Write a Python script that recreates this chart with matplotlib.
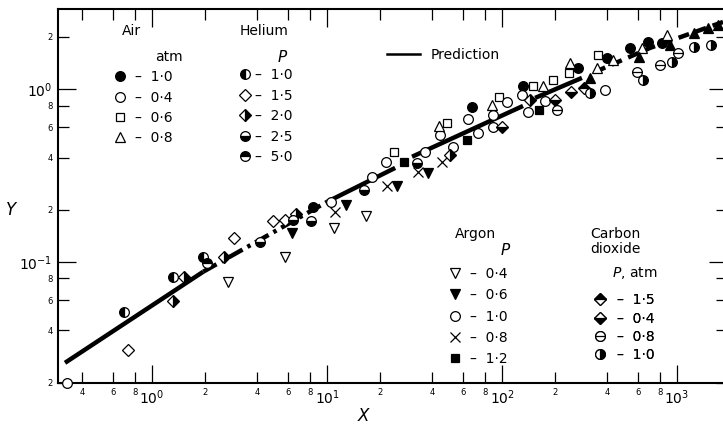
import matplotlib
matplotlib.use("Agg")
import matplotlib.pyplot as plt
from matplotlib.path import Path
from matplotlib.lines import Line2D

plt.rcParams['font.family'] = ['DejaVu Sans']
plt.rcParams['lines.scale_dashes'] = False

# ---------------- data ----------------
air_10_x = [8.3, 67, 132, 272, 398, 538, 682, 820]
air_10_y = [0.208, 0.787, 1.04, 1.32, 1.51, 1.73, 1.87, 1.85]
air_04_x = [0.327, 10.5, 18.1, 21.7, 36.3, 44.2, 63.9, 88.9]
air_04_y = [0.020, 0.222, 0.31, 0.378, 0.432, 0.542, 0.671, 0.708]
air_06_x = [24.1, 48.5, 96.1, 150, 196, 242, 354]
air_06_y = [0.432, 0.636, 0.899, 1.04, 1.127, 1.237, 1.573]
air_08_x = [43.6, 87.7, 171, 245, 349, 430, 631, 877]
air_08_y = [0.611, 0.809, 1.04, 1.413, 1.322, 1.472, 1.726, 2.05]
solid_up_x = [318, 607, 912, 1250, 1503, 1712]
solid_up_y = [1.158, 1.53, 1.796, 2.11, 2.25, 2.34]

ar_04_x = [2.72, 5.75, 10.96, 16.7]
ar_04_y = [0.0766, 0.107, 0.157, 0.1845]
ar_06_x = [6.31, 12.8, 25.1, 37.8]
ar_06_y = [0.147, 0.213, 0.275, 0.327]
ar_10_x = [52.5, 72.9, 88.9, 106.9, 130, 140.8, 176, 388]
ar_10_y = [0.462, 0.557, 0.603, 0.841, 0.923, 0.736, 0.853, 0.987]
ar_08_x = [11.1, 22.0, 33.1, 45.4]
ar_08_y = [0.1945, 0.275, 0.331, 0.378]
ar_12_x = [27.5, 63.1, 162.6]
ar_12_y = [0.378, 0.507, 0.756]

he_10_x = [0.692, 1.318, 1.955]
he_10_y = [0.0514, 0.0819, 0.107]
he_15_x = [0.729, 2.94, 4.91, 5.75]
he_15_y = [0.031, 0.1377, 0.1726, 0.175]
he_20_x = [1.524, 1.318, 2.58, 6.65, 50.5, 144.5]
he_20_y = [0.0819, 0.0595, 0.107, 0.189, 0.415, 0.863]
he_25_x = [4.14, 6.4, 8.1, 16.3, 32.7]
he_25_y = [0.1305, 0.175, 0.1726, 0.261, 0.373]
he_50_x = [2.06]
he_50_y = [0.0986]

co2_15_x = [294]
co2_15_y = [1.014]
co2_04_x = [100, 201, 248]
co2_04_y = [0.603, 0.863, 0.961]
co2_08_x = [206, 591, 800, 1014]
co2_08_y = [0.756, 1.254, 1.377, 1.614]
co2_10_x = [318, 639, 936, 1250, 1563]
co2_10_y = [0.948, 1.127, 1.432, 1.75, 1.796]

pred1_x = [0.318, 1.96]
pred1_y = [0.026, 0.0875]
pred2_x = [1.96, 4.14, 10.0]
pred2_y = [0.0875, 0.134, 0.222]
pred3_x = [10.0, 24.5]
pred3_y = [0.222, 0.349]
pred4_x = [30.6, 131.8]
pred4_y = [0.405, 0.797]
pred5_x = [154.5, 286]
pred5_y = [0.887, 1.158]
pred6_x = [340, 701, 1832]
pred6_y = [1.254, 1.726, 2.44]

x_major = [1, 10, 100, 1000]
x_major_labels = [r'$10^0$', r'$10^1$', r'$10^2$', r'$10^3$']
x_minor = [0.4, 0.6, 0.8, 2, 4, 6, 8, 20, 40, 60, 80, 200, 400, 600, 800]
x_minor_labels = ['4', '6', '8', '2', '4', '6', '8', '2', '4', '6', '8', '2', '4', '6', '8']
y_major = [0.1, 1]
y_major_labels = [r'$10^{-1}$', r'$10^0$']
y_minor = [0.02, 0.04, 0.06, 0.08, 0.2, 0.4, 0.6, 0.8, 2]
y_minor_labels = ['2', '4', '6', '8', '2', '4', '6', '8', '2']

# ---------------- figure ----------------
fig = plt.figure(figsize=(7.23, 4.32), dpi=100)
ax = fig.add_axes([58 / 723, 1 - 382.5 / 432, 669 / 723, 373.5 / 432])
ax.set_xscale('log')
ax.set_yscale('log')
ax.set_xlim(0.29, 1930)
ax.set_ylim(0.02, 2.9)

# theta-circle marker (circle with horizontal bar)
theta = Path.make_compound_path(Path.unit_circle(),
                                Path([(-1, 0), (1, 0)], [Path.MOVETO, Path.LINETO]))

MS = 7
MEW = 0.9
K = 'black'
W = 'white'

def st(marker, fc=W, fs='full', alt=W, ms=MS):
    return dict(marker=marker, ms=ms, mec=K, mfc=fc, mfcalt=alt, fillstyle=fs,
                mew=MEW, ls='none')

styles = {
    'air10': st('o', K),
    'air04': st('o', W),
    'air06': st('s', W, ms=6.3),
    'air08': st('^', W, ms=7.5),
    'up': st('^', K, ms=7.5),
    'ar04': st('v', W, ms=7.5),
    'ar06': st('v', K, ms=7.5),
    'ar10': st('o', W),
    'ar08': st('x', K, ms=6.5),
    'ar12': st('s', K, ms=6.3),
    'he10': st('o', K, 'left'),
    'he15': st('D', W, ms=6.5),
    'he20': st('D', K, 'right', ms=6.5),
    'he25': st('o', K, 'bottom'),
    'he50': st('o', K, 'top'),
    'co15': st('D', K, 'top', ms=6.5),
    'co04': st('D', K, 'bottom', ms=6.5),
    'co08': st(theta, W),
    'co10': st('o', K, 'right'),
}

# prediction line
plw = 3.2
ax.plot(pred1_x, pred1_y, color=K, lw=plw, solid_capstyle='butt', zorder=2)
ax.plot(pred2_x, pred2_y, color=K, lw=plw, ls=(0, (11, 4, 2.5, 4)), dash_capstyle='butt', zorder=2)
ax.plot(pred3_x, pred3_y, color=K, lw=plw, solid_capstyle='butt', zorder=2)
ax.plot(pred4_x, pred4_y, color=K, lw=plw, solid_capstyle='butt', zorder=2)
ax.plot(pred5_x, pred5_y, color=K, lw=plw, solid_capstyle='butt', zorder=2)
ax.plot(pred6_x, pred6_y, color=K, lw=plw, ls=(0, (8, 5)), dash_capstyle='butt', zorder=2)

series = [
    (air_10_x, air_10_y, 'air10'), (air_04_x, air_04_y, 'air04'),
    (air_06_x, air_06_y, 'air06'), (air_08_x, air_08_y, 'air08'),
    (solid_up_x, solid_up_y, 'up'),
    (ar_04_x, ar_04_y, 'ar04'), (ar_06_x, ar_06_y, 'ar06'),
    (ar_10_x, ar_10_y, 'ar10'), (ar_08_x, ar_08_y, 'ar08'),
    (ar_12_x, ar_12_y, 'ar12'),
    (he_10_x, he_10_y, 'he10'), (he_15_x, he_15_y, 'he15'),
    (he_20_x, he_20_y, 'he20'), (he_25_x, he_25_y, 'he25'),
    (he_50_x, he_50_y, 'he50'),
    (co2_15_x, co2_15_y, 'co15'), (co2_04_x, co2_04_y, 'co04'),
    (co2_08_x, co2_08_y, 'co08'), (co2_10_x, co2_10_y, 'co10'),
]
for xs, ys, key in series:
    ax.plot(xs, ys, clip_on=False, zorder=3, **styles[key])

# ticks
ax.set_xticks(x_major)
ax.set_xticklabels(x_major_labels, fontsize=10)
ax.set_xticks(x_minor, minor=True)
ax.set_xticklabels(x_minor_labels, minor=True, fontsize=6)
ax.set_yticks(y_major)
ax.set_yticklabels(y_major_labels, fontsize=10)
ax.set_yticks(y_minor, minor=True)
ax.set_yticklabels(y_minor_labels, minor=True, fontsize=6)
ax.tick_params(which='both', direction='in', top=True, right=True, width=0.9)
ax.tick_params(which='major', length=13, pad=4)
ax.tick_params(which='minor', length=8, pad=4)
for s in ax.spines.values():
    s.set_linewidth(1.5)

ax.set_xlabel('X', fontsize=12, fontstyle='italic')
ax.xaxis.set_label_coords(0.456, -0.065)
ax.set_ylabel('Y', fontsize=12, fontstyle='italic', rotation=0, ha='center', va='center')
ax.yaxis.set_label_coords(-0.070, 0.461)

# ---------------- legends ----------------
def h(key):
    return Line2D([], [], **styles[key])

def add_leg(handles, labels, x, y, spacing, pad, hl=1.0):
    leg = ax.legend(handles, labels, loc='upper left', bbox_to_anchor=(x, y),
                    bbox_transform=ax.transAxes, frameon=False, borderpad=0,
                    borderaxespad=0, handlelength=hl, handletextpad=pad,
                    labelspacing=spacing, fontsize=10, numpoints=1)
    ax.add_artist(leg)
    return leg

add_leg([h('air10'), h('air04'), h('air06'), h('air08')],
        ['–  1·0', '–  0·4', '–  0·6', '–  0·8'], 0.082, 0.836, 0.45, 0.58)
add_leg([h('he10'), h('he15'), h('he20'), h('he25'), h('he50')],
        ['–  1·0', '–  1·5', '–  2·0', '–  2·5', '–  5·0'], 0.269, 0.842, 0.47, 0.2)
add_leg([Line2D([], [], color=K, lw=1.8)], ['Prediction'], 0.492, 0.895, 0.4, 0.7, hl=2.4)
add_leg([h('ar04'), h('ar06'), h('ar10'), h('ar08'), h('ar12')],
        ['–  0·4', '–  0·6', '–  1·0', '–  0·8', '–  1·2'], 0.583, 0.309, 0.52, 0.58)
add_leg([h('co15'), h('co04'), h('co08'), h('co10')],
        ['–  1·5', '–  0·4', '–  0·8', '–  1·0'], 0.80, 0.239, 0.31, 0.7)

ax.text(0.0957, 0.941, 'Air', fontsize=10, ha='left', va='center', transform=ax.transAxes)
ax.text(0.166, 0.871, 'atm', fontsize=10, ha='center', va='center', transform=ax.transAxes)
ax.text(0.272, 0.941, 'Helium', fontsize=10, ha='left', va='center', transform=ax.transAxes)
ax.text(0.335, 0.871, 'P', fontsize=11, fontstyle='italic', ha='center', va='center', transform=ax.transAxes)
ax.text(0.593, 0.397, 'Argon', fontsize=10, ha='left', va='center', transform=ax.transAxes)
ax.text(0.668, 0.354, 'P', fontsize=11, fontstyle='italic', ha='center', va='center', transform=ax.transAxes)
ax.text(0.795, 0.378, 'Carbon\ndioxide', fontsize=10, ha='left', va='center',
        linespacing=1.05, transform=ax.transAxes)
ax.text(0.828, 0.292, r'$\it{P}$, atm', fontsize=10, ha='left', va='center', transform=ax.transAxes)

fig.savefig('out.png', dpi=100)
